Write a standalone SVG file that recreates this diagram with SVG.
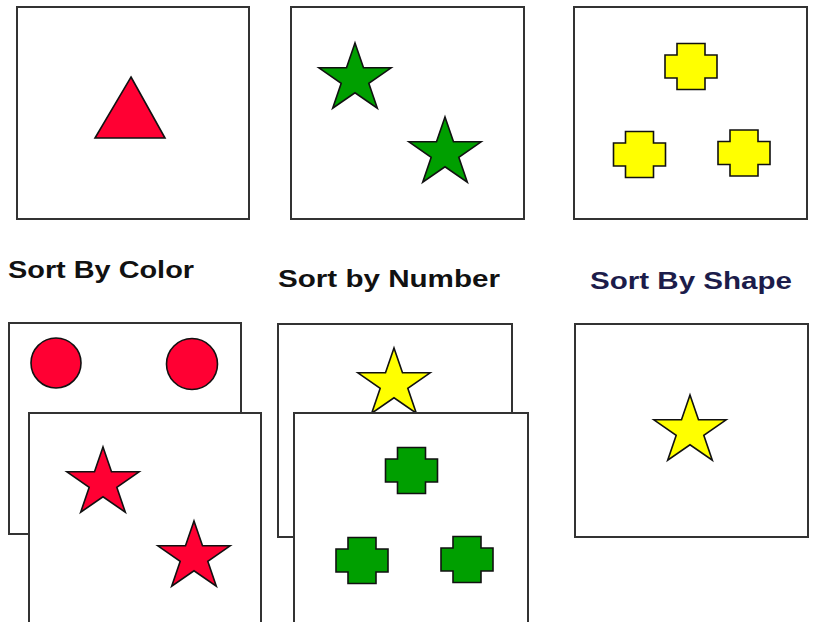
<svg xmlns="http://www.w3.org/2000/svg" width="813" height="622" viewBox="0 0 813 622">
<style>
.card{fill:#fff;stroke:#333;stroke-width:2}
.shp{stroke:#111;stroke-width:1.6;stroke-linejoin:miter}
.red{fill:#ff0033}
.green{fill:#009f00}
.yellow{fill:#ffff00}
.lbl{font-family:"Liberation Sans",Arial,sans-serif;font-weight:bold;font-size:23px;fill:#111}
</style>
<defs>
<path id="star" d="M0,-36.1 L8.5,-11.2 L36.1,-11.2 L13.8,4.3 L22.3,29.2 L0,13.8 L-22.3,29.2 L-13.8,4.3 L-36.1,-11.2 L-8.5,-11.2 Z"/>
<path id="cross" d="M-14,-23 H14 V-11.5 H26 V11.5 H14 V23 H-14 V11.5 H-26 V-11.5 H-14 Z"/>
</defs>
<rect width="813" height="622" fill="#fff"/>

<g id="card-triangle">
<rect class="card" x="17" y="7" width="232" height="212"/>
<polygon class="shp red" points="131,77 165,138 95,138"/>
</g>

<g id="card-green-stars">
<rect class="card" x="291" y="7" width="233" height="212"/>
<use href="#star" class="shp green" transform="translate(355,79)"/>
<use href="#star" class="shp green" transform="translate(445,153)"/>
</g>

<g id="card-yellow-crosses">
<rect class="card" x="574" y="7" width="233" height="212"/>
<use href="#cross" class="shp yellow" transform="translate(691,66.5)"/>
<use href="#cross" class="shp yellow" transform="translate(639.5,154.5)"/>
<use href="#cross" class="shp yellow" transform="translate(744,153)"/>
</g>

<g id="label-color"><text class="lbl" x="8" y="278" textLength="186" lengthAdjust="spacingAndGlyphs">Sort By Color</text></g>
<g id="label-number"><text class="lbl" x="278" y="287" textLength="222" lengthAdjust="spacingAndGlyphs">Sort by Number</text></g>
<g id="label-shape"><text class="lbl" x="590" y="289" textLength="202" lengthAdjust="spacingAndGlyphs" style="fill:#1c1c4a">Sort By Shape</text></g>

<g id="card-red-circles">
<rect class="card" x="9" y="323" width="232" height="211"/>
<circle class="shp red" cx="56" cy="363" r="25"/>
<circle class="shp red" cx="192" cy="364" r="25.5"/>
</g>

<g id="card-red-stars">
<rect class="card" x="29" y="413" width="232" height="212"/>
<use href="#star" class="shp red" transform="translate(103,483)"/>
<use href="#star" class="shp red" transform="translate(194,557)"/>
</g>

<g id="card-yellow-star-back">
<rect class="card" x="278" y="324" width="234" height="213"/>
<use href="#star" class="shp yellow" transform="translate(394,384)"/>
</g>

<g id="card-green-crosses">
<rect class="card" x="294" y="413" width="234" height="212"/>
<use href="#cross" class="shp green" transform="translate(411.5,470.5)"/>
<use href="#cross" class="shp green" transform="translate(362,560.5)"/>
<use href="#cross" class="shp green" transform="translate(467,559.5)"/>
</g>

<g id="card-yellow-star">
<rect class="card" x="575" y="324" width="233" height="213"/>
<use href="#star" class="shp yellow" transform="translate(690,431)"/>
</g>
</svg>
